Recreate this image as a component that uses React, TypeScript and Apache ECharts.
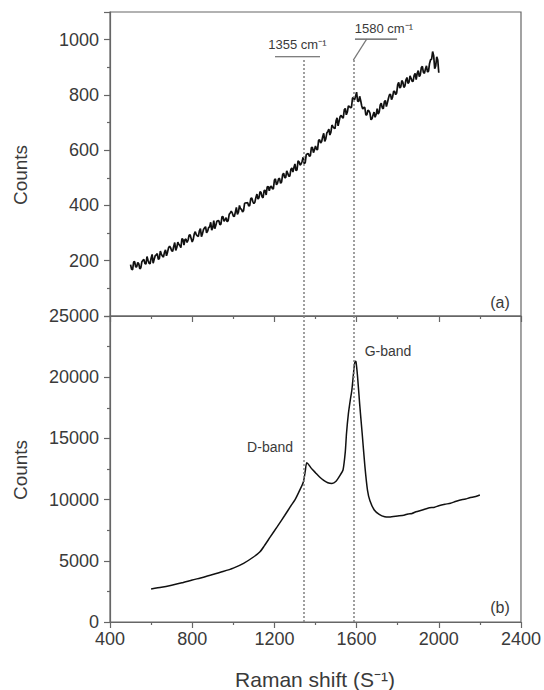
import React, { useEffect, useRef } from 'react';
import * as echarts from 'echarts';

// Raman shift axis
const shiftMin = 400;
const shiftMax = 2400;
const shiftStep = 400;

// (a) upper spectrum, readings on the 10 cm-1 grid
const topShiftA = [
  500, 510, 520, 530, 540, 550, 560, 570, 580, 590,
  600, 610, 620, 630, 640, 650, 660, 670, 680, 690,
  700, 710, 720, 730, 740, 750, 760, 770, 780, 790,
  800, 810, 820, 830, 840, 850, 860, 870, 880, 890,
  900, 910, 920, 930, 940, 950, 960, 970, 980, 990,
  1000, 1010, 1020, 1030, 1040, 1050, 1060, 1070, 1080, 1090,
  1100, 1110, 1120, 1130, 1140, 1150, 1160, 1170, 1180, 1190,
  1200, 1210, 1220, 1230, 1240, 1250, 1260, 1270, 1280, 1290,
  1300, 1310, 1320, 1330, 1340, 1350, 1360, 1370, 1380, 1390,
  1400, 1410, 1420, 1430, 1440, 1450, 1460, 1470, 1480, 1490,
  1500, 1510, 1520, 1530, 1540, 1550, 1560, 1570, 1580, 1590,
  1600, 1610, 1620, 1630, 1640, 1650, 1660, 1670, 1680, 1690,
  1700, 1710, 1720, 1730, 1740, 1750, 1760, 1770, 1780, 1790,
  1800, 1810, 1820, 1830, 1840, 1850, 1860, 1870, 1880, 1890,
  1900, 1910, 1920, 1930, 1940, 1950, 1960, 1970, 1980, 1990,
  2000,
];
const topCountsA = [
  186, 168, 197, 178, 189, 174, 201, 190, 215, 191,
  209, 191, 218, 226, 208, 224, 213, 239, 231, 253,
  236, 252, 237, 267, 255, 280, 257, 278, 275, 294,
  268, 297, 294, 288, 316, 298, 319, 301, 320, 339,
  320, 316, 343, 344, 333, 359, 348, 341, 368, 379,
  362, 376, 368, 400, 386, 381, 409, 410, 400, 427,
  407, 429, 423, 450, 431, 454, 438, 469, 467, 461,
  492, 475, 496, 480, 511, 501, 525, 506, 530, 521,
  550, 529, 558, 550, 575, 555, 586, 578, 609, 591,
  615, 602, 638, 631, 661, 641, 668, 655, 691, 680,
  706, 688, 722, 719, 746, 728, 760, 754, 788, 782,
  810, 776, 779, 749, 754, 728, 742, 710, 727, 719,
  750, 738, 770, 750, 780, 772, 801, 783, 813, 801,
  837, 825, 852, 827, 854, 842, 869, 850, 871, 855,
  888, 873, 903, 878, 905, 886, 927, 957, 895, 938,
  880,
];
// (a) upper spectrum, readings between those
const topShiftB = [
  505, 515, 525, 535, 545, 555, 565, 575, 585, 595,
  605, 615, 625, 635, 645, 655, 665, 675, 685, 695,
  705, 715, 725, 735, 745, 755, 765, 775, 785, 795,
  805, 815, 825, 835, 845, 855, 865, 875, 885, 895,
  905, 915, 925, 935, 945, 955, 965, 975, 985, 995,
  1005, 1015, 1025, 1035, 1045, 1055, 1065, 1075, 1085, 1095,
  1105, 1115, 1125, 1135, 1145, 1155, 1165, 1175, 1185, 1195,
  1205, 1215, 1225, 1235, 1245, 1255, 1265, 1275, 1285, 1295,
  1305, 1315, 1325, 1335, 1345, 1355, 1365, 1375, 1385, 1395,
  1405, 1415, 1425, 1435, 1445, 1455, 1465, 1475, 1485, 1495,
  1505, 1515, 1525, 1535, 1545, 1555, 1565, 1575, 1585, 1595,
  1605, 1615, 1625, 1635, 1645, 1655, 1665, 1675, 1685, 1695,
  1705, 1715, 1725, 1735, 1745, 1755, 1765, 1775, 1785, 1795,
  1805, 1815, 1825, 1835, 1845, 1855, 1865, 1875, 1885, 1895,
  1905, 1915, 1925, 1935, 1945, 1955, 1965, 1975, 1985, 1995,
];
const topCountsB = [
  169, 195, 178, 194, 171, 196, 205, 188, 202, 189,
  223, 205, 221, 205, 235, 217, 230, 218, 247, 247,
  234, 266, 248, 259, 247, 277, 277, 266, 292, 280,
  277, 305, 290, 308, 287, 313, 323, 307, 323, 311,
  345, 328, 345, 330, 360, 343, 356, 345, 373, 373,
  360, 393, 376, 388, 377, 408, 409, 398, 425, 414,
  412, 441, 428, 447, 428, 455, 467, 453, 470, 460,
  496, 480, 498, 485, 517, 501, 516, 506, 536, 537,
  526, 561, 546, 560, 551, 584, 588, 580, 610, 602,
  603, 636, 626, 649, 632, 662, 676, 665, 685, 678,
  717, 705, 726, 716, 751, 738, 758, 755, 791, 795,
  777, 795, 760, 755, 728, 745, 734, 714, 738, 729,
  731, 764, 753, 775, 758, 788, 802, 792, 813, 807,
  845, 829, 846, 832, 863, 846, 860, 849, 878, 878,
  866, 899, 882, 894, 883, 914, 929, 942, 905, 926,
];

// (b) lower spectrum: Raman shift and counts
const bottomShift = [
  600, 650, 700, 750, 800, 850, 900, 950, 1000, 1050,
  1100, 1130, 1150, 1180, 1214, 1250, 1280, 1300, 1320, 1341,
  1350, 1357, 1365, 1380, 1400, 1420, 1440, 1460, 1480, 1500,
  1520, 1534, 1545, 1551, 1560, 1570, 1577, 1585, 1592, 1597,
  1605, 1615, 1627, 1640, 1653, 1665, 1686, 1710, 1737, 1760,
  1800, 1830, 1850, 1870, 1889, 1920, 1950, 1980, 2000, 2030,
  2057, 2080, 2100, 2130, 2150, 2180, 2200,
];
const bottomCounts = [
  2700, 2840, 3010, 3200, 3430, 3640, 3880, 4120, 4400, 4790,
  5330, 5740, 6200, 6950, 7790, 8700, 9480, 9970, 10650, 11440,
  12300, 13020, 12900, 12550, 12200, 11850, 11580, 11380, 11320, 11500,
  12000, 12420, 13900, 15420, 17000, 18200, 18950, 20300, 21300, 21270,
  20000, 17800, 15440, 12800, 10780, 9900, 9150, 8800, 8600, 8580,
  8660, 8720, 8830, 8870, 9010, 9150, 9310, 9380, 9500, 9620,
  9700, 9840, 9950, 10050, 10150, 10260, 10380,
];

// Band positions (dotted guides) and annotations
const bandShifts = [1345, 1584];
const bandGuideTop = 926;
const bandTexts = ['1355 cm⁻¹', '1580 cm⁻¹'];
const bandNames = ['D-band', 'G-band'];
const panelLetters = ['(a)', '(b)'];

export default function App() {
  const ref = useRef<HTMLDivElement>(null);

  useEffect(() => {
    const chart = echarts.init(ref.current!, null, { renderer: 'svg' });
    const axisColor = '#666';
    const textColor = '#3a3a3a';
    const font = '"Liberation Sans", Arial, Helvetica, sans-serif';

    const topData = topShiftA
      .map((x, i) => [x, topCountsA[i]])
      .concat(topShiftB.map((x, i) => [x, topCountsB[i]]))
      .sort((a, b) => a[0] - b[0]);

    const xAxisBase = {
      type: 'value',
      min: shiftMin,
      max: shiftMax,
      interval: shiftStep,
      axisLine: { show: true, onZero: false, lineStyle: { color: axisColor, width: 1.2 } },
      axisTick: { show: true, inside: false, length: 6, lineStyle: { color: axisColor, width: 1.2 } },
      minorTick: { show: true, splitNumber: 2, length: 3, lineStyle: { color: axisColor, width: 1.2 } },
      splitLine: { show: false },
      minorSplitLine: { show: false },
    };
    const yAxisBase = {
      type: 'value',
      axisLine: { show: true, onZero: false, lineStyle: { color: axisColor, width: 1.2 } },
      axisTick: { show: true, inside: false, length: 6, lineStyle: { color: axisColor, width: 1.2 } },
      minorTick: { show: true, splitNumber: 2, length: 3, lineStyle: { color: axisColor, width: 1.2 } },
      splitLine: { show: false },
      minorSplitLine: { show: false },
    };
    const plain = (v: number) => String(v);
    const labelStyle = { fontSize: 18, color: textColor, fontFamily: font, formatter: plain };
    const guideStyle = { type: [2, 2], color: '#808080', width: 1.5 };

    const option: any = {
      animation: false,
      backgroundColor: '#ffffff',
      grid: [
        { left: 110, right: 23, top: 12, height: 304, show: true, borderColor: axisColor, borderWidth: 1.2 },
        { left: 110, right: 23, top: 316, height: 306, show: true, borderColor: axisColor, borderWidth: 1.2 },
      ],
      xAxis: [
        { ...xAxisBase, gridIndex: 0, axisLabel: { show: false } },
        { ...xAxisBase, gridIndex: 1, axisLabel: { ...labelStyle, margin: 8 } },
      ],
      yAxis: [
        {
          ...yAxisBase, gridIndex: 0, min: 0, max: 1100, interval: 200,
          axisLabel: { ...labelStyle, margin: 11, showMinLabel: false, showMaxLabel: false },
        },
        {
          ...yAxisBase, gridIndex: 1, min: 0, max: 25000, interval: 5000,
          axisLabel: { ...labelStyle, margin: 11 },
        },
      ],
      series: [
        {
          type: 'line',
          xAxisIndex: 0,
          yAxisIndex: 0,
          data: topData,
          showSymbol: false,
          symbol: 'none',
          lineStyle: { color: '#111', width: 1.7 },
          z: 3,
          markLine: {
            silent: true,
            symbol: ['none', 'none'],
            label: { show: false },
            lineStyle: guideStyle,
            data: bandShifts.map((v) => [{ coord: [v, bandGuideTop] }, { coord: [v, 0] }]),
          },
        },
        {
          type: 'line',
          xAxisIndex: 1,
          yAxisIndex: 1,
          data: bottomShift.map((x, i) => [x, bottomCounts[i]]),
          showSymbol: false,
          symbol: 'none',
          smooth: 0.2,
          lineStyle: { color: '#111', width: 1.5 },
          z: 3,
          markLine: {
            silent: true,
            symbol: ['none', 'none'],
            label: { show: false },
            lineStyle: guideStyle,
            data: bandShifts.map((v) => ({ xAxis: v })),
          },
        },
      ],
    };
    chart.setOption(option);

    const p = (g: number, x: number, y: number) => chart.convertToPixel({ gridIndex: g }, [x, y]) as number[];
    const lineEl = (a: number[], b: number[], color: string) => ({
      type: 'line',
      shape: { x1: a[0], y1: a[1], x2: b[0], y2: b[1] },
      style: { stroke: color, lineWidth: 1.2 },
      silent: true,
    });
    const textEl = (pt: number[], text: string, size: number, rot = 0) => ({
      type: 'text',
      x: pt[0],
      y: pt[1],
      rotation: rot,
      style: {
        text,
        fill: textColor,
        font: `${size}px ${font}`,
        align: 'center',
        verticalAlign: 'middle',
      },
      silent: true,
    });

    const graphics: any[] = [
      textEl(p(0, 1312, 982), bandTexts[0], 13),
      lineEl(p(0, 1203, 938), p(0, 1422, 938), '#555'),
      textEl(p(0, 1733, 1039), bandTexts[1], 13),
      lineEl(p(0, 1592, 1002), p(0, 1797, 1002), '#555'),
      lineEl(p(0, 1649, 1002), p(0, bandShifts[1], bandGuideTop), '#777'),
      textEl(p(0, 2298, 48), panelLetters[0], 16),
      textEl(p(1, 1179, 14322), bandNames[0], 14),
      textEl(p(1, 1753, 22165), bandNames[1], 14),
      textEl(p(1, 2298, 1168), panelLetters[1], 16),
      textEl([20, 175], 'Counts', 19, Math.PI / 2),
      textEl([20, 470], 'Counts', 19, Math.PI / 2),
      textEl([315, 679], 'Raman shift (S⁻¹)', 21),
    ];
    chart.setOption({ graphic: graphics });

    return () => {
      chart.dispose();
    };
  }, []);

  return (
    <div
      ref={ref}
      style={{ position: 'absolute', left: 0, top: 0, width: 544, height: 690, background: '#fff' }}
    />
  );
}
